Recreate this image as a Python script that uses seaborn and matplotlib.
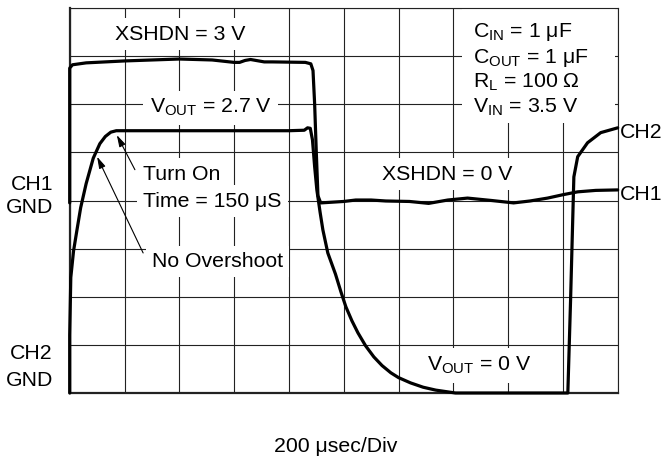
import numpy as np
import pandas as pd
import matplotlib
matplotlib.use("Agg")
import matplotlib.pyplot as plt
from matplotlib.patches import Rectangle
import seaborn as sns

# scope trace, x in divisions (200 usec/div), y in divisions (8 div screen)
ch1_t = [0.0, 0.0, 0.05, 0.3, 1.0, 2.0, 2.6, 3.0, 3.1, 3.2, 3.3, 3.4, 3.55, 3.7, 4.3, 4.40,
         4.44, 4.47, 4.50, 4.53, 4.58, 5.0, 5.22, 5.5, 5.77, 6.2, 6.55, 6.9, 7.26,
         7.7, 8.1, 8.4, 8.72, 9.0, 9.27, 9.6, 10.0]
ch1_v = [3.95, 6.75, 6.82, 6.86, 6.90, 6.94, 6.92, 6.87, 6.87, 6.91, 6.93, 6.91, 6.88, 6.88, 6.87, 6.84,
         6.70, 6.00, 5.00, 4.10, 3.95, 3.98, 4.01, 4.01, 3.99, 3.98, 3.94, 4.01, 4.05,
         4.00, 3.95, 3.99, 4.05, 4.12, 4.18, 4.21, 4.22]

ch2_t = [0.0, 0.0, 0.02, 0.07, 0.13, 0.2, 0.3, 0.43, 0.55, 0.65, 0.75, 0.85, 1.0, 2.0,
         3.0, 4.0, 4.28, 4.34, 4.39, 4.43, 4.47, 4.51, 4.57, 4.62, 4.71, 4.85, 4.95, 5.04,
         5.15, 5.26, 5.40, 5.55, 5.70, 5.86, 6.0, 6.22, 6.45, 6.68, 7.04, 9.09, 9.14, 9.20,
         9.27, 9.45, 9.69, 10.0]
ch2_v = [0.0, 1.2, 2.4, 2.95, 3.37, 3.85, 4.35, 4.88, 5.18, 5.33, 5.42, 5.45, 5.45, 5.45,
         5.45, 5.45, 5.46, 5.51, 5.50, 5.26, 4.70, 4.22, 3.75, 3.39, 2.91, 2.47, 2.10, 1.79,
         1.50, 1.25, 0.98, 0.75, 0.57, 0.42, 0.32, 0.21, 0.12, 0.06, 0.0, 0.0, 1.93, 4.49,
         4.91, 5.20, 5.41, 5.51]

df1 = pd.DataFrame({"t": ch1_t, "v": ch1_v})
df2 = pd.DataFrame({"t": ch2_t, "v": ch2_v})

sns.set_style("white")
plt.rcParams["font.family"] = ["Liberation Sans", "DejaVu Sans"]
plt.rcParams["text.color"] = "black"
plt.rcParams["mathtext.fontset"] = "custom"
plt.rcParams["mathtext.rm"] = "Liberation Sans"
plt.rcParams["mathtext.it"] = "Liberation Sans:italic"

fig = plt.figure(figsize=(6.7, 4.62), dpi=100)
ax = fig.add_axes([69.7 / 670, 69 / 462, 548 / 670, 385 / 462])

ax.set_xlim(0, 10)
ax.set_ylim(0, 8)
ax.set_xticks(np.arange(0, 11))
ax.set_yticks(np.arange(0, 9))
ax.tick_params(length=0, labelbottom=False, labelleft=False)
ax.set_axisbelow(True)
ax.grid(True, color="#222222", linewidth=0.8)
for side, lw in [("left", 1.6), ("bottom", 1.6), ("top", 0.8), ("right", 0.8)]:
    ax.spines[side].set_linewidth(lw)
    ax.spines[side].set_color("#222222")

# blank area behind the conditions block
ax.add_patch(Rectangle((7.16, 5.61), 2.79, 2.39, facecolor="white", edgecolor="none", zorder=1))

sns.lineplot(data=df1, x="t", y="v", sort=False, estimator=None, color="black",
             linewidth=2.3, ax=ax, clip_on=False, zorder=3)
sns.lineplot(data=df2, x="t", y="v", sort=False, estimator=None, color="black",
             linewidth=2.3, ax=ax, clip_on=False, zorder=3)
ax.set_xlabel("")
ax.set_ylabel("")

fs = 15.3
box = dict(facecolor="white", edgecolor="none", boxstyle="square,pad=0.3")

ax.text(0.83, 7.34, "XSHDN = 3 V", fontsize=fs, va="baseline", bbox=box, zorder=4)
ax.text(2.57, 5.82, r"V$_{\mathrm{OUT}}$ = 2.7 V", fontsize=fs, ha="center", va="baseline",
        bbox=box, zorder=4)
ax.text(1.34, 4.43, "Turn On", fontsize=fs, va="baseline", bbox=box, zorder=4)
ax.text(1.34, 3.87, "Time = 150 μS", fontsize=fs, va="baseline", bbox=box, zorder=4)
ax.text(1.50, 2.62, "No Overshoot", fontsize=fs, va="baseline", bbox=box, zorder=4)
ax.text(5.70, 4.43, "XSHDN = 0 V", fontsize=fs, va="baseline", bbox=box, zorder=4)
ax.text(6.52, 0.46, r"V$_{\mathrm{OUT}}$ = 0 V", fontsize=fs, va="baseline", bbox=box, zorder=4)

cond = [r"C$_{\mathrm{IN}}$ = 1 μF", r"C$_{\mathrm{OUT}}$ = 1 μF",
        r"R$_{\mathrm{L}}$ = 100 Ω", r"V$_{\mathrm{IN}}$ = 3.5 V"]
for s, yb in zip(cond, [7.40, 6.86, 6.34, 5.82]):
    ax.text(7.36, yb, s, fontsize=fs, va="baseline", zorder=4)

arr = dict(arrowstyle="-|>,head_length=0.7,head_width=0.2", color="black", lw=0.8,
           shrinkA=0, shrinkB=0)
ax.annotate("", xy=(0.86, 5.36), xytext=(1.19, 4.64), arrowprops=arr, zorder=5)
ax.annotate("", xy=(0.50, 4.91), xytext=(1.34, 2.91), arrowprops=arr, zorder=5)

# channel labels outside the screen
ax.text(10.04, 5.30, "CH2", fontsize=fs, va="baseline")
ax.text(10.04, 4.02, "CH1", fontsize=fs, va="baseline")
ax.text(-0.305, 4.22, "CH1", fontsize=fs, ha="right", va="baseline")
ax.text(-0.305, 3.74, "GND", fontsize=fs, ha="right", va="baseline")
ax.text(-0.305, 0.71, "CH2", fontsize=fs, ha="right", va="baseline")
ax.text(-0.305, 0.15, "GND", fontsize=fs, ha="right", va="baseline")
ax.text(4.86, -1.23, "200 μsec/Div", fontsize=fs, ha="center", va="baseline")

fig.savefig("out.png", dpi=100)
